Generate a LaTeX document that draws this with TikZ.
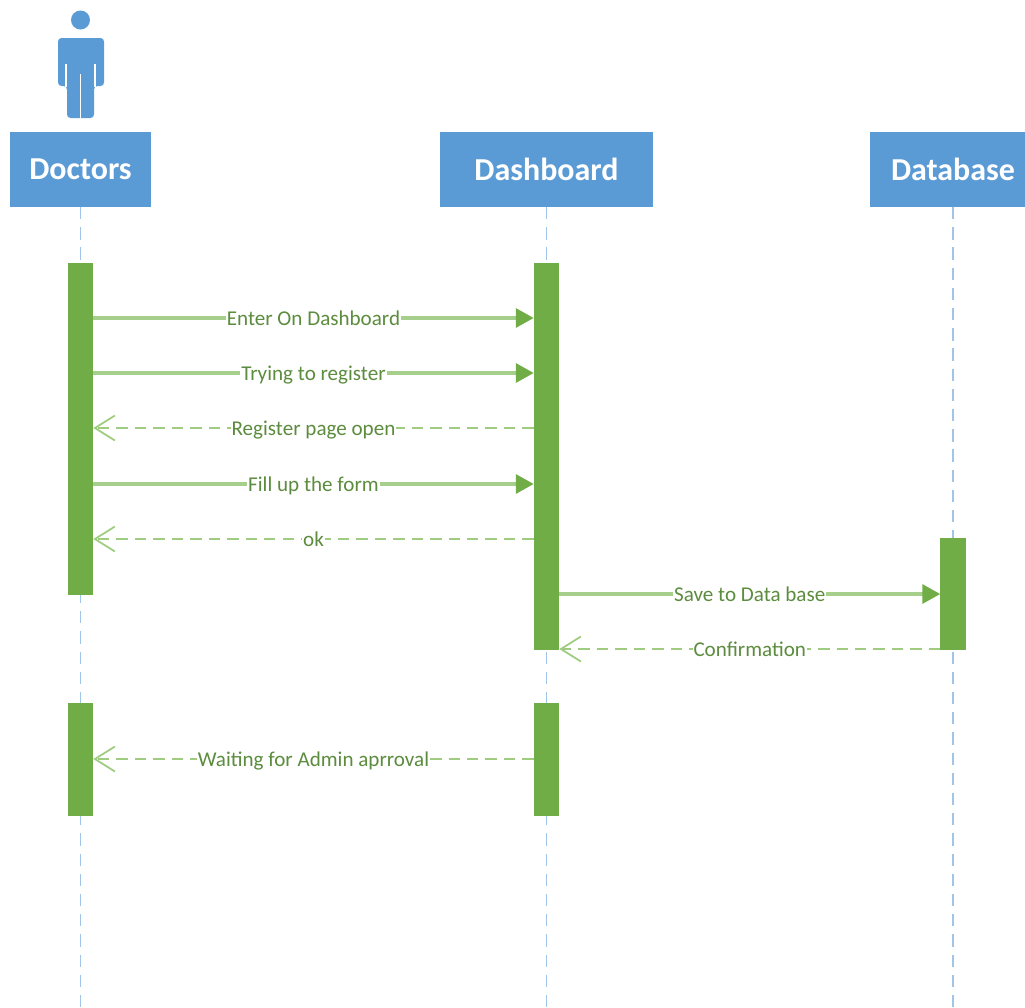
\documentclass[tikz,border=0pt]{standalone}
\usepackage{fontspec}
\setmainfont{Carlito}
\usepackage{tikz}
\usetikzlibrary{arrows.meta}
\definecolor{boxcolor}{RGB}{91,155,213}
\definecolor{barcolor}{RGB}{112,173,71}
\definecolor{linecolor}{RGB}{165,207,138}
\definecolor{dashcolor}{RGB}{160,204,130}
\definecolor{lifecolor}{RGB}{160,197,232}
\definecolor{msgcolor}{RGB}{92,140,62}

\begin{document}
\begin{tikzpicture}[
    x=0.02cm, y=-0.02cm,
    actorbox/.style={draw=none, rectangle, fill=boxcolor, text=white, minimum height=1.5cm, inner sep=0pt, outer sep=0pt, font=\fontsize{18.2}{20}\selectfont\bfseries},
    barbox/.style={rectangle, fill=barcolor, minimum width=0.51cm, inner sep=0pt, outer sep=0pt},
    lifeline/.style={lifecolor, line width=1pt, dash pattern=on 7pt off 4.5pt},
    call/.style={-{Triangle[length=0.36cm, width=0.38cm, color=barcolor, fill=barcolor]}, linecolor, line width=1.9pt},
    reply/.style={-{Straight Barb[length=0.4cm, width=0.5cm, line width=1pt]}, dashcolor, line width=1.2pt, dash pattern=on 6.5pt off 4pt},
    msg/.style={midway, fill=white, inner sep=0.5pt, yshift=-1.7pt, text height=8pt, text depth=2.5pt, text=msgcolor, font=\fontsize{12}{14}\selectfont}
]
    \clip (0,0) rectangle (1025,1008);

    % Acteur
    \fill[boxcolor] (80.5,20) circle (9.5);
    \fill[boxcolor, rounded corners=2pt] (58,38) -- (104,38) -- (104,86) -- (94,86) -- (94,118) -- (67,118) -- (67,86) -- (58,86) -- cycle;
    \draw[white, line width=0.6pt] (66,64) -- (66,87);
    \draw[white, line width=0.6pt] (95,64) -- (95,87);
    \draw[white, line width=0.6pt] (80.5,74) -- (80.5,119);

    % Boites
    \node[actorbox, minimum width=2.82cm] (doctors) at (80.5,169.5) {Doctors};
    \node[actorbox, minimum width=4.26cm] (dashboard) at (546.5,169.5) {Dashboard};
    \node[actorbox, minimum width=3.32cm] (database) at (953,169.5) {Database};

    % Lignes de vie
    \coordinate (doctorsend) at (80.5,1008);
    \coordinate (dashboardend) at (546.5,1008);
    \coordinate (databaseend) at (953,1008);
    \draw[lifeline] (doctors) -- (doctorsend);
    \draw[lifeline] (dashboard) -- (dashboardend);
    \draw[lifeline] (database) -- (databaseend);

    % Activations
    \node[barbox, minimum height=6.64cm] (doctorsbar) at (80.5,429) {};
    \node[barbox, minimum height=7.74cm] (dashboardbar) at (546.5,456.5) {};
    \node[barbox, minimum height=2.24cm] (databasebar) at (953,594) {};
    \node[barbox, minimum height=2.26cm] (doctorswait) at (80.5,759.5) {};
    \node[barbox, minimum height=2.26cm] (dashboardwait) at (546.5,759.5) {};

    % Rangees des messages
    \coordinate (enterrow) at (0,318);
    \coordinate (tryrow) at (0,373);
    \coordinate (openrow) at (0,428);
    \coordinate (fillrow) at (0,484);
    \coordinate (okrow) at (0,539);
    \coordinate (saverow) at (0,594);
    \coordinate (confirmrow) at (0,649);
    \coordinate (waitrow) at (0,759);

    % Messages
    \draw[call] (doctorsbar.east |- enterrow) -- node[msg] {Enter On Dashboard} (dashboardbar.west |- enterrow);
    \draw[call] (doctorsbar.east |- tryrow) -- node[msg] {Trying to register} (dashboardbar.west |- tryrow);
    \draw[reply] (dashboardbar.west |- openrow) -- node[msg] {Register page open} (doctorsbar.east |- openrow);
    \draw[call] (doctorsbar.east |- fillrow) -- node[msg] {Fill up the form} (dashboardbar.west |- fillrow);
    \draw[reply] (dashboardbar.west |- okrow) -- node[msg] {ok} (doctorsbar.east |- okrow);
    \draw[call] (dashboardbar.east |- saverow) -- node[msg] {Save to Data base} (databasebar.west |- saverow);
    \draw[reply] (databasebar.west |- confirmrow) -- node[msg] {Confirmation} (dashboardbar.east |- confirmrow);
    \draw[reply] (dashboardwait.west |- waitrow) -- node[msg] {Waiting for Admin aprroval} (doctorswait.east |- waitrow);
\end{tikzpicture}
\end{document}
